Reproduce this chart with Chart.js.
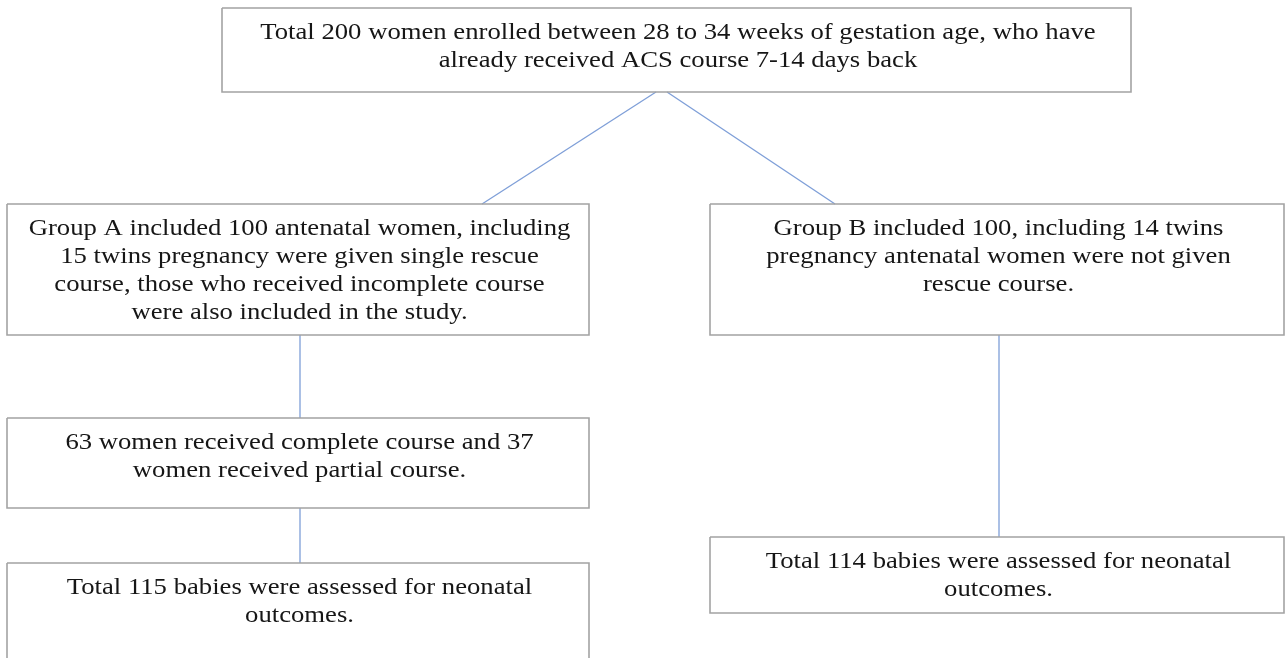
<!DOCTYPE html>
<html>
<head>
<meta charset="utf-8">
<title>Study flow</title>
<script src="https://cdn.jsdelivr.net/npm/chart.js@4.4.1/dist/chart.umd.min.js"></script>
<style>
  html, body { margin: 0; padding: 0; background: #fff; }
  #wrap { width: 1285px; height: 658px; position: relative; }
</style>
</head>
<body>
<div id="wrap"><canvas id="flow"></canvas></div>
<script>
// boxes of the flow diagram (left, right, top, bottom in page units)
const boxLeft   = [222, 7,   710, 7,   7,   710];
const boxRight  = [1131, 589, 1284, 589, 589, 1284];
const boxTop    = [8,   204, 204, 418, 563, 537];
const boxBottom = [92,  335, 335, 508, 672, 613];
const boxText = [
  ["Total 200 women enrolled between 28 to 34 weeks of gestation age, who have",
   "already received ACS course 7-14 days back"],
  ["Group A included 100 antenatal women, including",
   "15 twins pregnancy were given single rescue",
   "course, those who received incomplete course",
   "were also included in the study."],
  ["Group B included 100, including 14 twins",
   "pregnancy antenatal women were not given",
   "rescue course."],
  ["63 women received complete course and 37",
   "women received partial course."],
  ["Total 115 babies were assessed for neonatal",
   "outcomes."],
  ["Total 114 babies were assessed for neonatal",
   "outcomes."]
];

// connectors: [x1, y1, x2, y2]
const links = [
  [656, 92, 482, 204],
  [667, 92, 835, 204],
  [300, 335, 300, 418],
  [300, 508, 300, 563],
  [999, 335, 999, 537]
];

const datasets = [];
boxLeft.forEach((l, i) => {
  const r = boxRight[i], t = boxTop[i], b = boxBottom[i];
  datasets.push({
    data: [{x: l, y: t}, {x: r, y: t}, {x: r, y: b}, {x: l, y: b}, {x: l, y: t}],
    showLine: true,
    borderColor: '#a3a3a3',
    borderWidth: 1.6,
    pointRadius: 0,
    tension: 0
  });
});
links.forEach(k => {
  datasets.push({
    data: [{x: k[0], y: k[1]}, {x: k[2], y: k[3]}],
    showLine: true,
    borderColor: '#7f9fd8',
    borderWidth: 1.3,
    pointRadius: 0,
    tension: 0
  });
});

// writes the text of each box, centred, through the chart scales
// (the source text is a bit stretched sideways, hence the scale)
const boxLabels = {
  id: 'boxLabels',
  afterDatasetsDraw(chart) {
    const ctx = chart.ctx;
    const xs = chart.scales.x, ys = chart.scales.y;
    ctx.save();
    ctx.fillStyle = '#161616';
    ctx.font = '23px "Liberation Serif", "Times New Roman", serif';
    ctx.textAlign = 'center';
    ctx.textBaseline = 'middle';
    boxText.forEach((lines, i) => {
      const cx = xs.getPixelForValue((boxLeft[i] + boxRight[i]) / 2 + 1.5);
      lines.forEach((line, j) => {
        const cy = ys.getPixelForValue(boxTop[i] + 24.5 + j * 28);
        ctx.save();
        ctx.translate(cx, cy);
        ctx.scale(1.16, 1);
        ctx.fillText(line, 0, 0);
        ctx.restore();
      });
    });
    ctx.restore();
  }
};

new Chart(document.getElementById('flow'), {
  type: 'scatter',
  data: { datasets: datasets },
  options: {
    responsive: true,
    maintainAspectRatio: false,
    animation: false,
    layout: { padding: 0 },
    plugins: {
      legend: { display: false },
      tooltip: { enabled: false },
      title: { display: false }
    },
    scales: {
      x: { type: 'linear', min: 0, max: 1285, display: false },
      y: { type: 'linear', min: 0, max: 658, reverse: true, display: false }
    }
  },
  plugins: [boxLabels]
});
</script>
</body>
</html>
